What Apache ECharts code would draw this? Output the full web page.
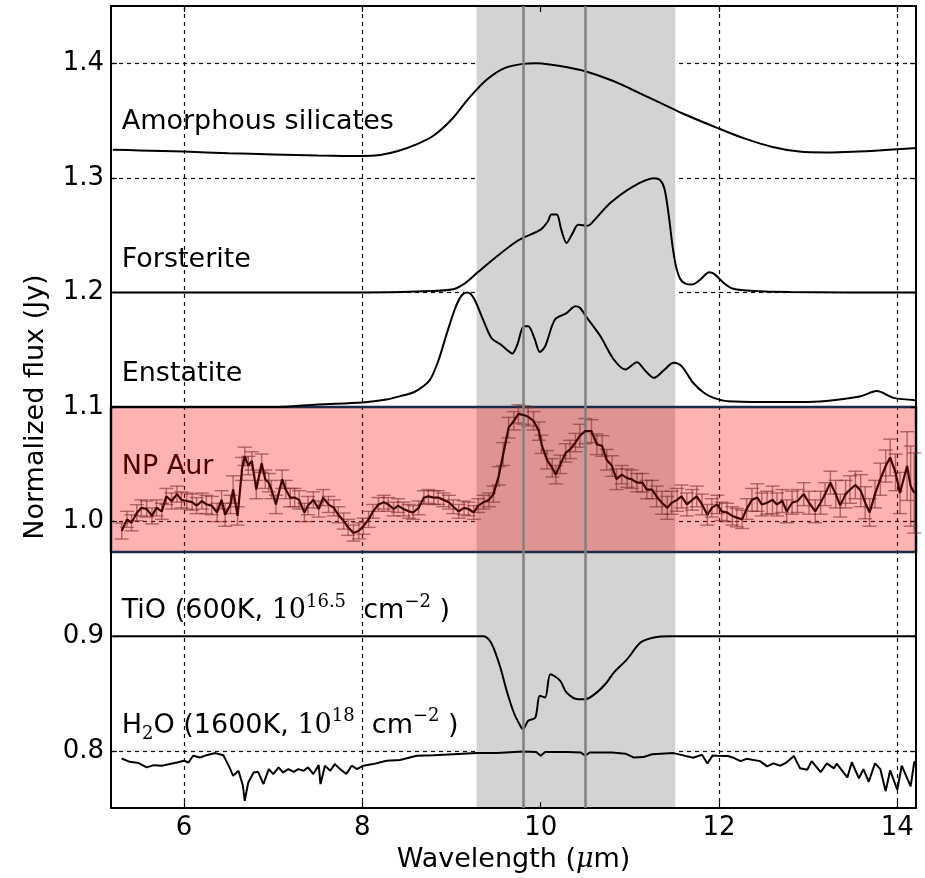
<!DOCTYPE html>
<html>
<head>
<meta charset="utf-8">
<script src="https://cdn.jsdelivr.net/npm/echarts@6/dist/echarts.min.js"></script>
<style>
  html, body { margin: 0; padding: 0; background: #fff; }
  #chart { width: 925px; height: 878px; }
</style>
</head>
<body>
<div id="chart"></div>
<script>
// axis ranges / ticks
const xMin = 5.18, xMax = 14.21
const yMin = 0.75, yMax = 1.45
const xTicks = [6, 8, 10, 12, 14]
const yTicks = [0.8, 0.9, 1.0, 1.1, 1.2, 1.3, 1.4]

// shaded band and marker lines (micron)
const bandX = [9.28, 11.51]
const featureLines = [9.8, 10.5]
const boxY = [1.1, 0.9735]

// model spectra
const amorphX = [5.2, 5.5, 6.0, 6.5, 7.0, 7.5, 8.0, 8.2, 8.4, 8.6, 8.8, 9.0, 9.2, 9.4, 9.6, 9.8, 9.95, 10.1, 10.3, 10.5, 10.8, 11.0, 11.3, 11.6, 12.0, 12.3, 12.6, 12.9, 13.2, 13.5, 14.0, 14.21]
const amorphY = [1.3246, 1.3240, 1.3230, 1.3215, 1.3205, 1.3195, 1.3190, 1.3200, 1.3235, 1.3290, 1.3370, 1.3510, 1.3700, 1.3860, 1.3960, 1.3995, 1.4000, 1.3990, 1.3965, 1.3930, 1.3850, 1.3780, 1.3670, 1.3560, 1.3430, 1.3340, 1.3270, 1.3230, 1.3222, 1.3228, 1.3250, 1.3260]

const forstX = [5.2, 8.0, 8.6, 9.0, 9.15, 9.3, 9.5, 9.7, 9.8, 10.0, 10.08, 10.12, 10.18, 10.23, 10.29, 10.36, 10.42, 10.53, 10.6, 10.78, 11.04, 11.27, 11.34, 11.39, 11.44, 11.48, 11.52, 11.57, 11.63, 11.70, 11.79, 11.89, 11.95, 12.05, 12.15, 12.35, 12.8, 14.21]
const forstY = [1.2, 1.2, 1.2008, 1.2025, 1.208, 1.218, 1.231, 1.243, 1.2476, 1.2548, 1.262, 1.268, 1.268, 1.255, 1.2432, 1.252, 1.259, 1.2583, 1.263, 1.278, 1.2926, 1.2996, 1.298, 1.290, 1.265, 1.240, 1.222, 1.2112, 1.2075, 1.2070, 1.2112, 1.2176, 1.216, 1.2085, 1.2035, 1.2015, 1.2003, 1.2]

const enstX = [5.2, 7.0, 7.5, 8.0, 8.27, 8.45, 8.57, 8.68, 8.76, 8.85, 8.95, 9.05, 9.12, 9.18, 9.25, 9.35, 9.45, 9.55, 9.62, 9.68, 9.74, 9.81, 9.86, 9.93, 9.99, 10.05, 10.16, 10.29, 10.39, 10.44, 10.52, 10.67, 10.82, 10.95, 11.08, 11.17, 11.27, 11.38, 11.49, 11.58, 11.71, 11.83, 11.94, 12.1, 12.5, 13.0, 13.28, 13.59, 13.77, 13.96, 14.21]
const enstY = [1.1, 1.1, 1.1023, 1.104, 1.1066, 1.110, 1.1127, 1.118, 1.124, 1.14, 1.165, 1.188, 1.198, 1.200, 1.195, 1.177, 1.160, 1.1547, 1.150, 1.1467, 1.155, 1.1705, 1.1705, 1.16, 1.148, 1.153, 1.1764, 1.182, 1.188, 1.1866, 1.1778, 1.1618, 1.1415, 1.1328, 1.1391, 1.132, 1.1255, 1.132, 1.1386, 1.1357, 1.1212, 1.1125, 1.108, 1.105, 1.1043, 1.1045, 1.106, 1.1095, 1.1139, 1.108, 1.106]

const tioX = [5.2, 9.3, 9.36, 9.42, 9.47, 9.55, 9.62, 9.70, 9.77, 9.80, 9.86, 9.94, 9.99, 10.05, 10.11, 10.22, 10.29, 10.42, 10.50, 10.63, 10.74, 10.82, 10.97, 11.12, 11.27, 11.45, 14.21]
const tioY = [0.9, 0.9, 0.9, 0.897, 0.890, 0.872, 0.852, 0.833, 0.822, 0.8189, 0.8262, 0.829, 0.848, 0.8466, 0.8669, 0.861, 0.8509, 0.845, 0.845, 0.851, 0.8596, 0.8683, 0.88, 0.8945, 0.8989, 0.9, 0.9]

const h2oX = [5.30, 5.39, 5.49, 5.58, 5.66, 5.75, 5.84, 5.92, 6.0, 6.05, 6.10, 6.18, 6.25, 6.35, 6.44, 6.50, 6.55, 6.61, 6.66, 6.68, 6.72, 6.78, 6.83, 6.89, 6.95, 7.0, 7.06, 7.11, 7.17, 7.23, 7.28, 7.34, 7.39, 7.45, 7.51, 7.53, 7.58, 7.64, 7.69, 7.75, 7.82, 7.88, 7.94, 8.01, 8.12, 8.27, 8.42, 8.61, 8.80, 9.02, 9.28, 9.51, 9.8, 9.95, 10.0, 10.05, 10.3, 10.45, 10.5, 10.55, 10.8, 10.95, 11.04, 11.15, 11.25, 11.49, 11.6, 11.71, 11.81, 11.87, 11.93, 11.98, 12.1, 12.16, 12.24, 12.31, 12.46, 12.54, 12.61, 12.69, 12.76, 12.84, 12.91, 12.99, 13.04, 13.14, 13.21, 13.29, 13.32, 13.44, 13.49, 13.57, 13.62, 13.68, 13.75, 13.81, 13.87, 13.92, 14.0, 14.05, 14.15, 14.19, 14.21]
const h2oY = [0.7933, 0.7904, 0.7893, 0.7855, 0.7875, 0.787, 0.7884, 0.7898, 0.7913, 0.7898, 0.7957, 0.7942, 0.7962, 0.798, 0.7962, 0.787, 0.7782, 0.7826, 0.7695, 0.7564, 0.7724, 0.7811, 0.7817, 0.771, 0.784, 0.7797, 0.7855, 0.7811, 0.784, 0.7817, 0.784, 0.7826, 0.7855, 0.7797, 0.7875, 0.771, 0.787, 0.7826, 0.7884, 0.784, 0.7797, 0.787, 0.784, 0.787, 0.7884, 0.7913, 0.7919, 0.7957, 0.7962, 0.7971, 0.798, 0.798, 0.7995, 0.799, 0.7957, 0.799, 0.799, 0.7985, 0.7957, 0.7985, 0.7985, 0.7975, 0.7942, 0.7945, 0.797, 0.798, 0.796, 0.794, 0.7966, 0.789, 0.796, 0.7957, 0.7955, 0.794, 0.791, 0.793, 0.791, 0.7864, 0.789, 0.787, 0.790, 0.7954, 0.7847, 0.7835, 0.791, 0.7813, 0.789, 0.7847, 0.7888, 0.7768, 0.790, 0.776, 0.784, 0.773, 0.789, 0.784, 0.7648, 0.783, 0.766, 0.787, 0.769, 0.790, 0.791]

// observed NP Aur spectrum
const npX = [5.30, 5.36, 5.41, 5.47, 5.52, 5.58, 5.64, 5.69, 5.75, 5.80, 5.86, 5.92, 5.97, 6.03, 6.09, 6.14, 6.20, 6.25, 6.31, 6.37, 6.42, 6.46, 6.52, 6.55, 6.60, 6.65, 6.68, 6.72, 6.76, 6.81, 6.87, 6.91, 6.95, 6.98, 7.03, 7.10, 7.14, 7.19, 7.24, 7.29, 7.35, 7.39, 7.45, 7.51, 7.56, 7.62, 7.68, 7.73, 7.79, 7.84, 7.90, 7.96, 8.01, 8.07, 8.12, 8.18, 8.24, 8.29, 8.35, 8.40, 8.46, 8.52, 8.57, 8.63, 8.69, 8.74, 8.80, 8.85, 8.91, 8.97, 9.02, 9.08, 9.14, 9.19, 9.25, 9.30, 9.36, 9.42, 9.47, 9.53, 9.58, 9.64, 9.70, 9.75, 9.81, 9.86, 9.92, 9.98, 10.01, 10.07, 10.13, 10.17, 10.22, 10.28, 10.33, 10.39, 10.44, 10.50, 10.57, 10.63, 10.69, 10.74, 10.80, 10.85, 10.91, 10.97, 11.02, 11.08, 11.14, 11.19, 11.25, 11.30, 11.36, 11.42, 11.47, 11.53, 11.58, 11.64, 11.70, 11.75, 11.81, 11.87, 11.92, 11.98, 12.03, 12.09, 12.15, 12.20, 12.26, 12.31, 12.37, 12.43, 12.48, 12.54, 12.60, 12.65, 12.71, 12.76, 12.82, 12.88, 12.95, 13.01, 13.08, 13.14, 13.19, 13.25, 13.31, 13.36, 13.42, 13.47, 13.53, 13.59, 13.64, 13.69, 13.75, 13.81, 13.87, 13.92, 13.98, 14.03, 14.11, 14.15, 14.19]
const npY = [0.9918, 1.002, 0.999, 1.0078, 1.012, 1.011, 1.005, 1.012, 1.009, 1.022, 1.018, 1.024, 1.019, 1.018, 1.017, 1.014, 1.018, 1.015, 1.014, 1.008, 1.019, 1.006, 1.015, 1.028, 1.005, 1.046, 1.057, 1.049, 1.053, 1.028, 1.051, 1.037, 1.034, 1.028, 1.015, 1.037, 1.028, 1.021, 1.021, 1.019, 1.008, 1.014, 1.019, 1.011, 1.021, 1.015, 1.012, 1.006, 1.0005, 0.995, 0.990, 0.992, 0.996, 1.002, 1.009, 1.015, 1.017, 1.015, 1.011, 1.014, 1.011, 1.009, 1.008, 1.012, 1.021, 1.022, 1.021, 1.021, 1.019, 1.017, 1.013, 1.009, 1.012, 1.011, 1.008, 1.014, 1.017, 1.019, 1.024, 1.040, 1.059, 1.082, 1.088, 1.094, 1.093, 1.0915, 1.088, 1.079, 1.0675, 1.054, 1.047, 1.041, 1.050, 1.060, 1.063, 1.069, 1.075, 1.079, 1.079, 1.0675, 1.066, 1.054, 1.0485, 1.037, 1.041, 1.038, 1.037, 1.034, 1.034, 1.028, 1.028, 1.022, 1.0165, 1.012, 1.0165, 1.019, 1.022, 1.015, 1.019, 1.022, 1.015, 1.006, 1.012, 1.015, 1.009, 1.008, 1.005, 1.0035, 1.002, 1.011, 1.019, 1.021, 1.015, 1.0165, 1.019, 1.015, 1.018, 1.009, 1.0165, 1.018, 1.024, 1.0165, 1.009, 1.0165, 1.024, 1.034, 1.024, 1.014, 1.024, 1.028, 1.032, 1.027, 1.0165, 1.008, 1.024, 1.037, 1.0485, 1.056, 1.043, 1.025, 1.0485, 1.031, 1.025]
const npErr = [0.007, 0.007, 0.007, 0.007, 0.007, 0.007, 0.007, 0.007, 0.007, 0.007, 0.007, 0.007, 0.007, 0.007, 0.007, 0.007, 0.007, 0.008, 0.008, 0.008, 0.008, 0.010, 0.008, 0.012, 0.008, 0.010, 0.008, 0.008, 0.008, 0.008, 0.008, 0.008, 0.008, 0.008, 0.008, 0.008, 0.008, 0.008, 0.008, 0.008, 0.008, 0.008, 0.007, 0.007, 0.007, 0.007, 0.007, 0.007, 0.007, 0.007, 0.007, 0.007, 0.007, 0.007, 0.006, 0.006, 0.006, 0.006, 0.006, 0.006, 0.006, 0.006, 0.006, 0.006, 0.006, 0.006, 0.006, 0.006, 0.006, 0.006, 0.006, 0.006, 0.006, 0.006, 0.006, 0.006, 0.006, 0.006, 0.007, 0.008, 0.010, 0.009, 0.008, 0.008, 0.008, 0.008, 0.008, 0.008, 0.008, 0.008, 0.008, 0.008, 0.008, 0.008, 0.008, 0.008, 0.010, 0.011, 0.010, 0.009, 0.009, 0.009, 0.009, 0.009, 0.008, 0.008, 0.008, 0.008, 0.008, 0.008, 0.008, 0.009, 0.010, 0.010, 0.010, 0.010, 0.010, 0.010, 0.009, 0.009, 0.009, 0.009, 0.008, 0.008, 0.008, 0.008, 0.008, 0.008, 0.008, 0.009, 0.010, 0.012, 0.010, 0.010, 0.012, 0.010, 0.010, 0.010, 0.010, 0.010, 0.010, 0.010, 0.010, 0.010, 0.010, 0.010, 0.012, 0.010, 0.012, 0.012, 0.012, 0.014, 0.014, 0.012, 0.012, 0.014, 0.014, 0.016, 0.016, 0.018, 0.030, 0.035, 0.035]

// annotation texts, anchored at their left edge / vertical centre
const labelX = 5.30
const labelY = [1.349, 1.2287, 1.1285, 1.048, 0.9218, 0.8218]
const labelText = [
  '{n|Amorphous silicates}',
  '{n|Forsterite}',
  '{n|Enstatite}',
  '{r|NP Aur}',
  '{n|TiO (600K, }{m|10}{sup|16.5}{n|  cm}{sup|−2}{n| )}',
  '{n|H}{sub|2}{n|O (1600K, }{m|10}{sup|18}{n|  cm}{sup|−2}{n| )}'
]

const zip = (xs, ys) => xs.map((x, i) => [x, ys[i]])

const chart = echarts.init(document.getElementById('chart'))
const font = 'DejaVu Sans'
const serif = 'DejaVu Serif'
const gridLine = { show: true, lineStyle: { color: '#111', width: 1.2, type: [4, 4] } }

function curve(name, xs, ys, smooth) {
  return {
    name: name,
    type: 'line',
    data: zip(xs, ys),
    symbol: 'none',
    smooth: smooth ? 0.3 : false,
    z: 2,
    lineStyle: { color: '#000', width: 2 },
    silent: true
  }
}

const option = {
  animation: false,
  backgroundColor: '#fff',
  textStyle: { fontFamily: font },
  grid: { left: 111, right: 9, top: 6, bottom: 69, show: false },
  xAxis: [
    {
      type: 'value', min: xMin, max: xMax, position: 'bottom', z: 1,
      name: '{a|Wavelength (}{b|μ}{a|m)}',
      nameLocation: 'middle', nameGap: 32,
      nameTextStyle: {
        rich: {
          a: { fontFamily: font, fontSize: 27, color: '#000' },
          b: { fontFamily: serif, fontStyle: 'italic', fontSize: 27, color: '#000' }
        }
      },
      axisLine: { show: true, onZero: false, lineStyle: { color: '#000', width: 2 } },
      axisTick: { show: true, inside: true, length: 6, customValues: xTicks, lineStyle: { color: '#000', width: 1.2 } },
      axisLabel: { customValues: xTicks, fontFamily: font, fontSize: 26, color: '#000', margin: 7 },
      splitLine: gridLine
    },
    {
      type: 'value', min: xMin, max: xMax, position: 'top', z: 1,
      axisLine: { show: true, onZero: false, lineStyle: { color: '#000', width: 2 } },
      axisTick: { show: true, inside: true, length: 6, customValues: xTicks, lineStyle: { color: '#000', width: 1.2 } },
      axisLabel: { show: false },
      splitLine: { show: false }
    }
  ],
  yAxis: [
    {
      type: 'value', min: yMin, max: yMax, position: 'left', z: 1,
      name: 'Normalized flux (Jy)',
      nameLocation: 'middle', nameGap: 62,
      nameTextStyle: { fontFamily: font, fontSize: 27, color: '#000' },
      axisLine: { show: true, onZero: false, lineStyle: { color: '#000', width: 2 } },
      axisTick: { show: true, inside: true, length: 6, customValues: yTicks, lineStyle: { color: '#000', width: 1.2 } },
      axisLabel: { customValues: yTicks, fontFamily: font, fontSize: 26, color: '#000', margin: 7, formatter: v => v.toFixed(1) },
      splitLine: gridLine
    },
    {
      type: 'value', min: yMin, max: yMax, position: 'right', z: 1,
      axisLine: { show: true, onZero: false, lineStyle: { color: '#000', width: 2 } },
      axisTick: { show: true, inside: true, length: 6, customValues: yTicks, lineStyle: { color: '#000', width: 1.2 } },
      axisLabel: { show: false },
      splitLine: { show: false }
    }
  ],
  series: [
    // grey band + feature lines, under the grid lines
    {
      type: 'line', data: [], z: 0, silent: true,
      markArea: {
        silent: true,
        itemStyle: { color: '#d3d3d3' },
        data: [[{ xAxis: bandX[0] }, { xAxis: bandX[1] }]]
      }
    },
    {
      type: 'line', data: [], z: 2, silent: true,
      markLine: {
        silent: true, symbol: ['none', 'none'],
        label: { show: false },
        lineStyle: { color: '#808080', width: 2.5, type: 'solid' },
        data: featureLines.map(v => ({ xAxis: v }))
      }
    },
    curve('Amorphous silicates', amorphX, amorphY, true),
    curve('Forsterite', forstX, forstY, true),
    curve('Enstatite', enstX, enstY, true),
    curve('TiO', tioX, tioY, true),
    curve('H2O', h2oX, h2oY, false),
    // red highlight box over NP Aur
    {
      type: 'line', data: [], z: 3, silent: true,
      markArea: {
        silent: true,
        itemStyle: { color: 'rgba(255,0,0,0.3)', borderColor: '#1c2b4a', borderWidth: 2.5 },
        data: [[{ yAxis: boxY[0] }, { yAxis: boxY[1] }]]
      }
    },
    {
      name: 'NP Aur errors',
      type: 'custom',
      z: 4, silent: true,
      data: npX.map((x, i) => [x, npY[i] - npErr[i], npY[i] + npErr[i]]),
      encode: { x: 0, y: [1, 2] },
      renderItem: (params, api) => {
        const lo = api.coord([api.value(0), api.value(1)])
        const hi = api.coord([api.value(0), api.value(2)])
        const w = 7
        const style = { stroke: 'rgba(125,45,45,0.6)', lineWidth: 1.4 }
        return {
          type: 'group',
          children: [
            { type: 'line', shape: { x1: lo[0], y1: lo[1], x2: hi[0], y2: hi[1] }, style: style },
            { type: 'line', shape: { x1: lo[0] - w, y1: lo[1], x2: lo[0] + w, y2: lo[1] }, style: style },
            { type: 'line', shape: { x1: hi[0] - w, y1: hi[1], x2: hi[0] + w, y2: hi[1] }, style: style }
          ]
        }
      }
    },
    {
      name: 'NP Aur',
      type: 'line',
      data: zip(npX, npY),
      symbol: 'none',
      z: 5, silent: true,
      lineStyle: { color: '#3f0404', width: 2.2 }
    },
    // text labels
    {
      type: 'scatter',
      z: 6, silent: true,
      symbolSize: 0,
      itemStyle: { opacity: 1, color: 'rgba(0,0,0,0)' },
      data: labelY.map((y, i) => ({ value: [labelX, y], text: labelText[i] })),
      label: {
        show: true,
        position: 'right',
        distance: 0,
        opacity: 1,
        formatter: p => p.data.text,
        rich: {
          n: { fontFamily: font, fontSize: 27, color: '#000', lineHeight: 36 },
          r: { fontFamily: font, fontSize: 27, color: '#4c0000', lineHeight: 36 },
          m: { fontFamily: serif, fontSize: 27, color: '#000', lineHeight: 36 },
          sup: { fontFamily: serif, fontSize: 18, color: '#000', verticalAlign: 'top', lineHeight: 18 },
          sub: { fontFamily: serif, fontSize: 18, color: '#000', verticalAlign: 'bottom', lineHeight: 18 }
        }
      }
    }
  ]
}

chart.setOption(option)
</script>
</body>
</html>
